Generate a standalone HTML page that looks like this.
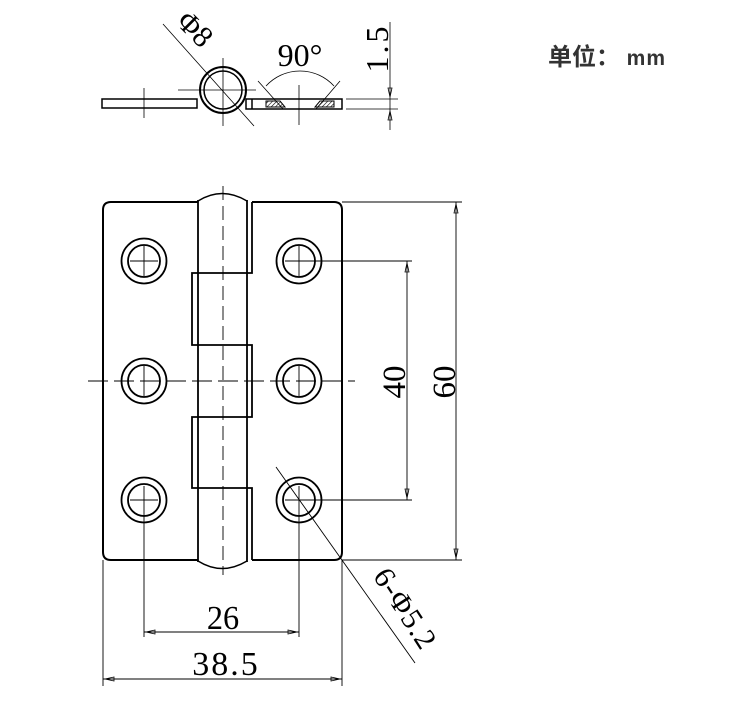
<!DOCTYPE html>
<html><head><meta charset="utf-8"><style>
html,body{margin:0;padding:0;background:#fff;}
svg{display:block;}
text{font-family:"Liberation Serif",serif;fill:#000;}
</style></head><body>
<svg width="738" height="701" viewBox="0 0 738 701" xmlns="http://www.w3.org/2000/svg">
<defs>
<pattern id="h" width="3" height="3" patternUnits="userSpaceOnUse" patternTransform="rotate(45)"><line x1="0" y1="0" x2="0" y2="3" stroke="#000" stroke-width="1.2"/></pattern>
</defs>
<g fill="none" stroke="#000">
<!-- top view -->
<rect x="102" y="99" width="95" height="9" stroke-width="1.5"/>
<rect x="246" y="99" width="96" height="10" stroke-width="1.5"/>
<line x1="252" y1="99" x2="252" y2="109" stroke-width="1.5"/>
<polygon points="266,101 280,101 285,107 266,107" fill="url(#h)" stroke-width="1"/>
<polygon points="320,101 334,101 334,107 315,107" fill="url(#h)" stroke-width="1"/>
<circle cx="223" cy="90" r="23" stroke-width="2" fill="#fff"/>
<circle cx="223" cy="90" r="19" stroke-width="1.5"/>
<g stroke-width="0.8">
<line x1="144" y1="88" x2="144" y2="118"/>
<line x1="223" y1="58" x2="223" y2="126"/>
<line x1="178" y1="90" x2="256" y2="90"/>
<line x1="299" y1="85" x2="299" y2="125"/>
<line x1="163" y1="24" x2="254" y2="126"/>
<line x1="258" y1="81" x2="283" y2="109"/>
<line x1="340" y1="81" x2="316" y2="109"/>
<path d="M266 86 A46 46 0 0 1 334 86"/>
<line x1="346" y1="99" x2="398" y2="99"/>
<line x1="346" y1="109" x2="398" y2="109"/>
<line x1="390" y1="22" x2="390" y2="130"/>
</g>
<!-- front view -->
<path d="M198 202 H111 Q103 202 103 210 V552 Q103 560 111 560 H198" stroke-width="2"/>
<path d="M252 202 H334 Q342 202 342 210 V552 Q342 560 334 560 H252" stroke-width="2"/>
<path d="M252 202 V273 H192 V345 H252 V417 H192 V488 H252 V560" stroke-width="1.8"/>
<line x1="198" y1="200" x2="198" y2="562" stroke-width="1.8"/>
<line x1="247" y1="200" x2="247" y2="562" stroke-width="1.8"/>
<path d="M198 201 Q222 186 247 201" stroke-width="1.5"/>
<path d="M198 561 Q222 576 247 561" stroke-width="1.5"/>
<g stroke-width="1.8">
<circle cx="144" cy="261" r="22.5"/><circle cx="144" cy="261" r="16"/>
<circle cx="299" cy="261" r="22.5"/><circle cx="299" cy="261" r="16"/>
<circle cx="144" cy="381" r="22.5"/><circle cx="144" cy="381" r="16"/>
<circle cx="299" cy="381" r="22.5"/><circle cx="299" cy="381" r="16"/>
<circle cx="144" cy="500" r="22.5"/><circle cx="144" cy="500" r="16"/>
<circle cx="299" cy="500" r="22.5"/><circle cx="299" cy="500" r="16"/>
</g>
<g stroke-width="0.9">
<line x1="223" y1="186" x2="223" y2="575" stroke-dasharray="14,6"/>
<line x1="88" y1="381" x2="355" y2="381" stroke-dasharray="20,6"/>
<line x1="130" y1="261" x2="158" y2="261"/><line x1="144" y1="246" x2="144" y2="276"/>
<line x1="285" y1="261" x2="412" y2="261"/><line x1="299" y1="246" x2="299" y2="276"/>
<line x1="144" y1="366" x2="144" y2="396"/><line x1="299" y1="366" x2="299" y2="396"/>
<line x1="130" y1="500" x2="158" y2="500"/><line x1="144" y1="486" x2="144" y2="637"/>
<line x1="285" y1="500" x2="412" y2="500"/><line x1="299" y1="486" x2="299" y2="637"/>
<line x1="342" y1="202" x2="462" y2="202"/><line x1="342" y1="560" x2="462" y2="560"/>
<line x1="456" y1="202" x2="456" y2="560"/>
<line x1="407" y1="261" x2="407" y2="500"/>
<line x1="144" y1="632" x2="299" y2="632"/>
<line x1="103" y1="560" x2="103" y2="686"/><line x1="342" y1="560" x2="342" y2="686"/>
<line x1="103" y1="679" x2="342" y2="679"/>
<line x1="276" y1="467" x2="415" y2="663"/>
</g>
<g stroke-width="0.8">
<path d="M456 204 l-2 9 h4 z M456 558 l-2 -9 h4 z M407 263 l-2 9 h4 z M407 498 l-2 -9 h4 z"/>
<path d="M146 632 l9 -2 v4 z M297 632 l-9 -2 v4 z M105 679 l9 -2 v4 z M340 679 l-9 -2 v4 z"/>
<path d="M390 97 l-2 -9 h4 z M390 111 l-2 9 h4 z"/>
</g>
</g>
<text x="223" y="629" font-size="34" text-anchor="middle" transform="translate(223 0) scale(0.95 1) translate(-223 0)">26</text>
<text x="226" y="675" font-size="34" text-anchor="middle" letter-spacing="2">38.5</text>
<text transform="translate(405,382) rotate(-90)" font-size="33" text-anchor="middle">40</text>
<text transform="translate(455,382) rotate(-90)" font-size="33" text-anchor="middle">60</text>
<text transform="translate(397,614) rotate(57)" font-size="30" text-anchor="middle" letter-spacing="1">6-Φ5.2</text>
<text x="300" y="66" font-size="32" text-anchor="middle">90°</text>
<text transform="translate(388,48) rotate(-90)" font-size="32" text-anchor="middle" letter-spacing="3">1.5</text>
<text transform="translate(188,36) rotate(45)" font-size="30" text-anchor="middle">Φ8</text>
<text x="548" y="65" font-size="24" font-weight="bold" style="font-family:'Liberation Sans','Noto Sans CJK SC',sans-serif;fill:#333">单位： <tspan font-size="21" letter-spacing="1">mm</tspan></text>
</svg>
</body></html>
